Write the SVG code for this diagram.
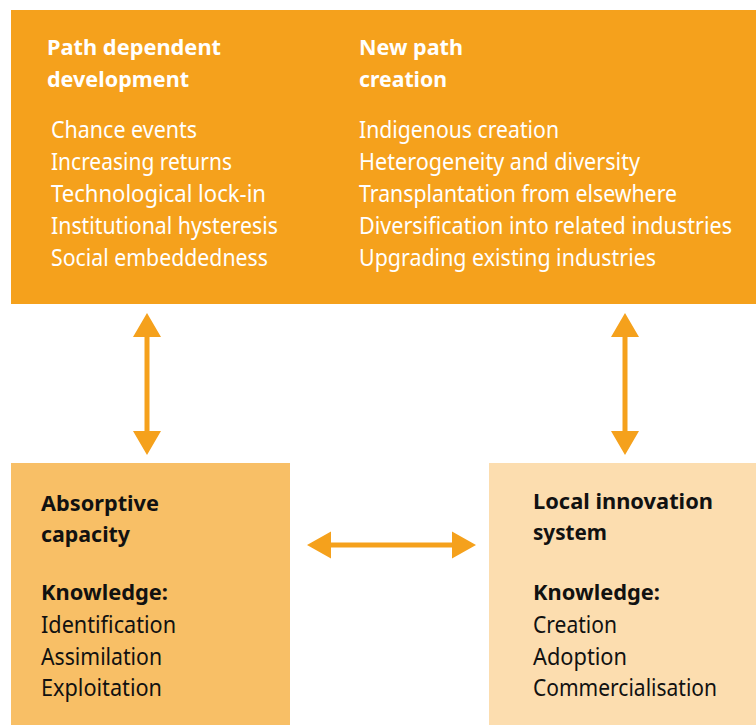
<svg xmlns="http://www.w3.org/2000/svg" width="756" height="725" viewBox="0 0 756 725">
<style>
text{font-family:"Noto Sans","Open Sans",sans-serif;font-size:23.5px}
.w{fill:#fff}
.k{fill:#111}
.b{font-weight:bold;font-size:22px}
.arr{fill:#F5A11C}
</style>
<rect width="756" height="725" fill="#fff"/>
<g id="top">
<rect x="11" y="10" width="745" height="294" fill="#F5A11C"/>
<text class="w b" x="47" y="55" textLength="174" lengthAdjust="spacingAndGlyphs">Path dependent</text>
<text class="w b" x="47" y="87" textLength="142" lengthAdjust="spacingAndGlyphs">development</text>
<text class="w" x="51" y="137.5" textLength="146" lengthAdjust="spacingAndGlyphs">Chance events</text>
<text class="w" x="51" y="169.5" textLength="181" lengthAdjust="spacingAndGlyphs">Increasing returns</text>
<text class="w" x="51" y="201.5" textLength="215" lengthAdjust="spacingAndGlyphs">Technological lock-in</text>
<text class="w" x="51" y="233.5" textLength="227" lengthAdjust="spacingAndGlyphs">Institutional hysteresis</text>
<text class="w" x="51" y="265.5" textLength="217" lengthAdjust="spacingAndGlyphs">Social embeddedness</text>
<text class="w b" x="359" y="55" textLength="104" lengthAdjust="spacingAndGlyphs">New path</text>
<text class="w b" x="359" y="87" textLength="88" lengthAdjust="spacingAndGlyphs">creation</text>
<text class="w" x="359" y="137.5" textLength="200" lengthAdjust="spacingAndGlyphs">Indigenous creation</text>
<text class="w" x="359" y="169.5" textLength="281" lengthAdjust="spacingAndGlyphs">Heterogeneity and diversity</text>
<text class="w" x="359" y="201.5" textLength="318" lengthAdjust="spacingAndGlyphs">Transplantation from elsewhere</text>
<text class="w" x="359" y="233.5" textLength="373" lengthAdjust="spacingAndGlyphs">Diversification into related industries</text>
<text class="w" x="359" y="265.5" textLength="297" lengthAdjust="spacingAndGlyphs">Upgrading existing industries</text>
</g>
<g id="absorptive">
<rect x="11" y="463" width="279" height="262" fill="#F8BF66"/>
<text class="k b" x="41" y="511" textLength="118" lengthAdjust="spacingAndGlyphs">Absorptive</text>
<text class="k b" x="41" y="542" textLength="89" lengthAdjust="spacingAndGlyphs">capacity</text>
<text class="k b" x="41" y="600" textLength="127" lengthAdjust="spacingAndGlyphs">Knowledge:</text>
<text class="k" x="41" y="633" textLength="135" lengthAdjust="spacingAndGlyphs">Identification</text>
<text class="k" x="41" y="664.5" textLength="121" lengthAdjust="spacingAndGlyphs">Assimilation</text>
<text class="k" x="41" y="696" textLength="121" lengthAdjust="spacingAndGlyphs">Exploitation</text>
</g>
<g id="local">
<rect x="489" y="463" width="267" height="262" fill="#FCDDAF"/>
<text class="k b" x="533" y="509" textLength="180" lengthAdjust="spacingAndGlyphs">Local innovation</text>
<text class="k b" x="533" y="540" textLength="74" lengthAdjust="spacingAndGlyphs">system</text>
<text class="k b" x="533" y="600" textLength="127" lengthAdjust="spacingAndGlyphs">Knowledge:</text>
<text class="k" x="533" y="633" textLength="84" lengthAdjust="spacingAndGlyphs">Creation</text>
<text class="k" x="533" y="664.5" textLength="94" lengthAdjust="spacingAndGlyphs">Adoption</text>
<text class="k" x="533" y="696" textLength="184" lengthAdjust="spacingAndGlyphs">Commercialisation</text>
</g>
<g id="connectors" class="arr">
<path d="M147 313 L161 337 L149.5 337 L149.5 431 L161 431 L147 455 L133 431 L144.5 431 L144.5 337 L133 337 Z"/>
<path d="M625 313 L639 337 L627.5 337 L627.5 431 L639 431 L625 455 L611 431 L622.5 431 L622.5 337 L611 337 Z"/>
<path d="M307 545 L331 531.5 L331 542.5 L452 542.5 L452 531.5 L476 545 L452 558.5 L452 547.5 L331 547.5 L331 558.5 Z"/>
</g>
</svg>
